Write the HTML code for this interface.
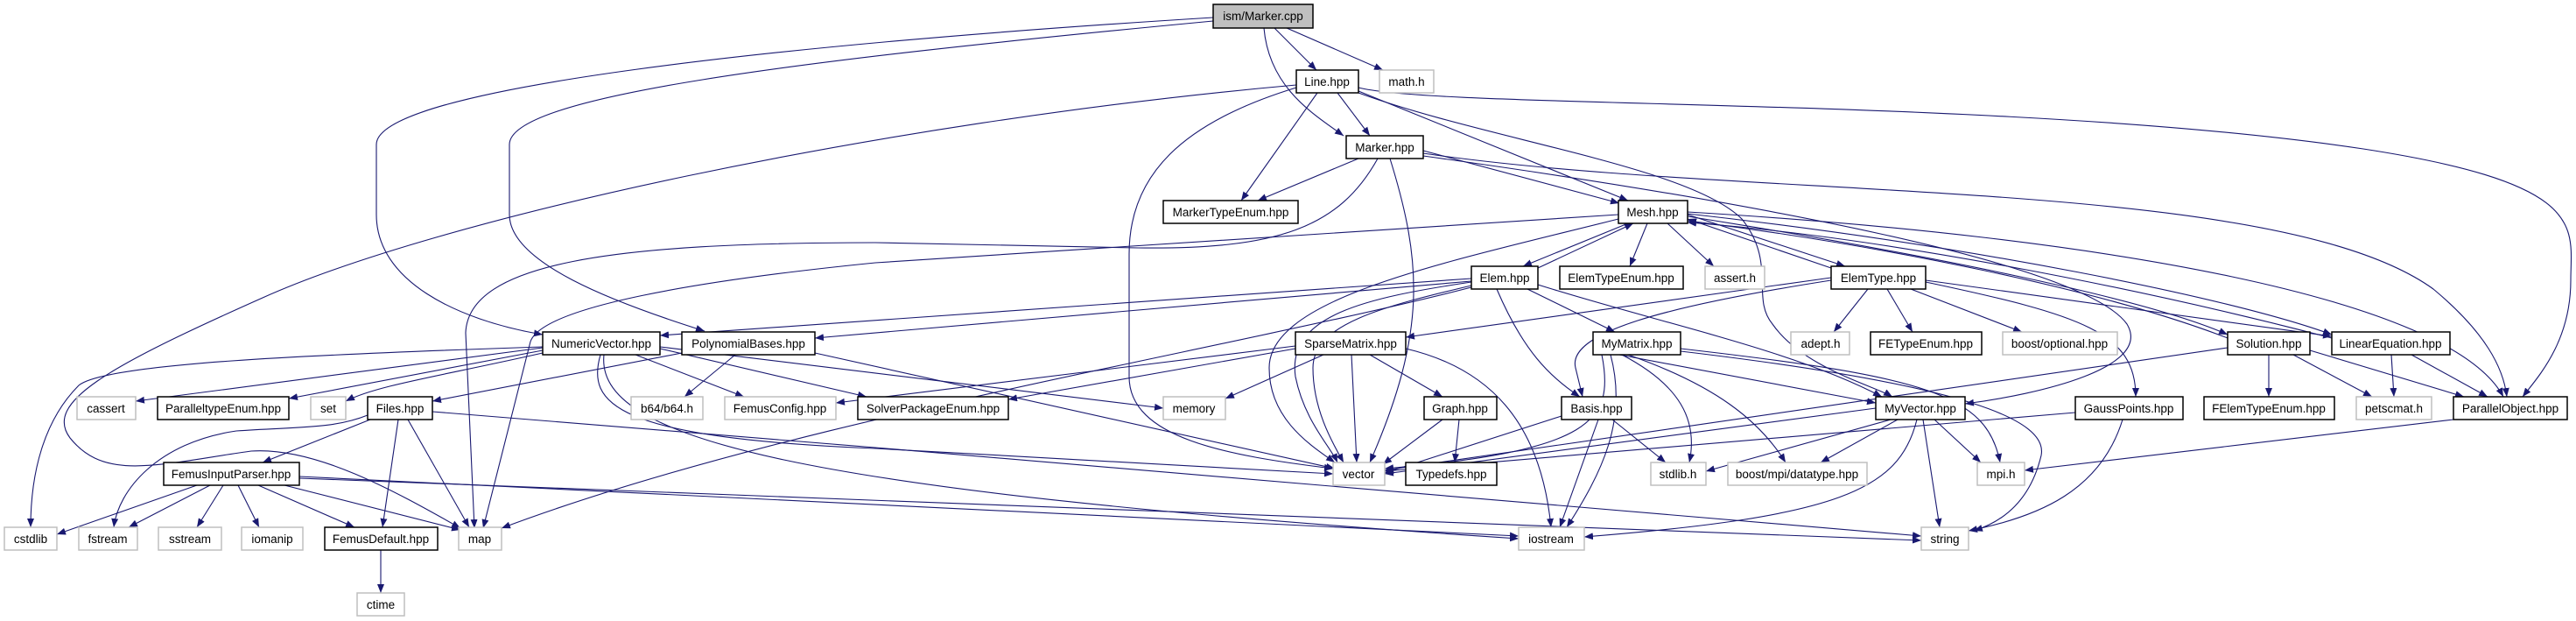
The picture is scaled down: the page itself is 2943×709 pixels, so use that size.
<!DOCTYPE html>
<html><head><meta charset="utf-8"><style>
html,body{margin:0;padding:0;background:#fff;}
svg{display:block;}
text{font-family:"Liberation Sans",sans-serif;font-size:13.5px;fill:#000;}
.e{fill:none;stroke:#191970;stroke-width:1.1;marker-end:url(#a);}
.p{fill:#fff;stroke:#000;stroke-width:1.5;}
.g{fill:#fff;stroke:#bfbfbf;stroke-width:1.5;}
</style></head><body>
<svg width="2943" height="709" viewBox="0 0 2943 709" xmlns="http://www.w3.org/2000/svg">
<defs><marker id="a" markerWidth="10" markerHeight="8" refX="10" refY="4" orient="auto" markerUnits="userSpaceOnUse"><path d="M0,0 L10,4 L0,8z" fill="#191970"/></marker></defs>
<g>
<path class="e" d="M1456,32 L1504,80"/>
<path class="e" d="M1470,32 L1580,80"/>
<path class="e" d="M1444,32 C1450,100 1500,130 1535,155"/>
<path class="e" d="M1386,20 C900,50 430,100 430,165 L430,245 C430,320 520,365 620,382"/>
<path class="e" d="M1386,24 C900,70 582,110 582,165 L582,245 C582,300 700,345 805,378"/>
<path class="e" d="M1505,106 L1418,229"/>
<path class="e" d="M1528,106 L1565,155"/>
<path class="e" d="M1552,104 L1860,229"/>
<path class="e" d="M1552,100 C1650,125 2300,110 2700,170 C2960,210 2937,260 2937,320 C2937,390 2900,430 2882,453"/>
<path class="e" d="M1552,106 C1700,160 1930,190 1990,250 C2030,300 2000,340 2025,370 C2060,420 2140,440 2162,453"/>
<path class="e" d="M1481,100 C1350,140 1290,200 1290,290 L1290,430 C1290,500 1400,520 1523,535"/>
<path class="e" d="M1481,97 C1000,140 500,250 300,340 C120,420 50,460 80,500 C120,550 180,530 287,515 C360,510 450,560 526,603"/>
<path class="e" d="M1552,181 L1437,229"/>
<path class="e" d="M1626,172 L1850,232"/>
<path class="e" d="M1588,181 C1625,300 1630,380 1565,528"/>
<path class="e" d="M1574,181 C1530,260 1460,285 1300,283 L1000,277 C700,277 535,300 532,380 L542,603"/>
<path class="e" d="M1626,175 C2000,230 2600,200 2780,330 C2840,380 2860,420 2864,453"/>
<path class="e" d="M1626,178 C2000,230 2380,300 2430,370 C2460,420 2330,450 2245,461"/>
<path class="e" d="M1860,255 L1740,304"/>
<path class="e" d="M1757,306 L1866,255"/>
<path class="e" d="M1882,255 L1862,304"/>
<path class="e" d="M1905,255 L1958,304"/>
<path class="e" d="M1928,245 L2108,304"/>
<path class="e" d="M2092,306 L1928,250"/>
<path class="e" d="M1928,247 C2200,290 2450,340 2545,382"/>
<path class="e" d="M2545,386 C2400,330 2150,280 1928,252"/>
<path class="e" d="M1928,244 C2250,280 2550,340 2664,382"/>
<path class="e" d="M2664,386 C2450,330 2150,270 1928,254"/>
<path class="e" d="M1928,242 C2400,270 2800,340 2860,453"/>
<path class="e" d="M1849,245 L1000,300 C800,320 620,350 606,390 L552,603"/>
<path class="e" d="M1849,250 C1650,300 1450,340 1450,420 C1450,480 1500,510 1525,528"/>
<path class="e" d="M1681,318 L754,383"/>
<path class="e" d="M1681,321 L931,386"/>
<path class="e" d="M1681,322 C1560,340 1470,360 1480,430 C1490,480 1520,510 1528,528"/>
<path class="e" d="M1681,326 C1580,350 1500,370 1500,420 C1500,470 1525,510 1535,528"/>
<path class="e" d="M1681,328 C1400,400 900,480 573,603"/>
<path class="e" d="M1710,330 C1740,400 1770,430 1805,453"/>
<path class="e" d="M1745,330 L1845,379"/>
<path class="e" d="M1757,325 C1900,370 2050,400 2150,453"/>
<path class="e" d="M2092,317 L1606,385"/>
<path class="e" d="M2092,320 C1900,350 1790,380 1800,420 L1808,453"/>
<path class="e" d="M2134,330 L2095,379"/>
<path class="e" d="M2156,330 L2185,379"/>
<path class="e" d="M2183,330 L2310,379"/>
<path class="e" d="M2200,322 C2380,360 2440,380 2440,453"/>
<path class="e" d="M2200,320 L2664,384"/>
<path class="e" d="M620,396 C350,405 120,415 90,440 C50,480 35,540 35,602"/>
<path class="e" d="M620,397 L155,458"/>
<path class="e" d="M620,400 L330,455"/>
<path class="e" d="M620,403 C500,430 430,440 395,458"/>
<path class="e" d="M726,405 L850,453"/>
<path class="e" d="M754,398 L990,453"/>
<path class="e" d="M754,396 L1329,466"/>
<path class="e" d="M686,405 C670,460 700,500 1000,512 L1523,541"/>
<path class="e" d="M690,405 C680,500 900,560 1735,615"/>
<path class="e" d="M779,403 L494,458"/>
<path class="e" d="M840,405 L782,453"/>
<path class="e" d="M931,403 L1525,535"/>
<path class="e" d="M420,474 C380,490 340,487 270,492 C180,505 135,560 130,602"/>
<path class="e" d="M423,479 L300,528"/>
<path class="e" d="M455,479 L437,602"/>
<path class="e" d="M466,479 L536,602"/>
<path class="e" d="M494,470 L1000,511 L2195,612"/>
<path class="e" d="M225,554 L65,610"/>
<path class="e" d="M240,554 L147,602"/>
<path class="e" d="M255,554 L225,602"/>
<path class="e" d="M272,554 L296,602"/>
<path class="e" d="M295,554 L405,602"/>
<path class="e" d="M325,554 L526,605"/>
<path class="e" d="M342,544 L1735,612"/>
<path class="e" d="M342,546 L2195,617"/>
<path class="e" d="M435,628 L435,677"/>
<path class="e" d="M1480,395 L955,460"/>
<path class="e" d="M1480,398 L1152,456"/>
<path class="e" d="M1512,405 L1400,455"/>
<path class="e" d="M1544,405 L1550,528"/>
<path class="e" d="M1565,405 L1648,453"/>
<path class="e" d="M1606,398 C1700,420 1760,480 1772,602"/>
<path class="e" d="M1648,479 L1580,530"/>
<path class="e" d="M1667,479 L1662,528"/>
<path class="e" d="M1830,405 C1845,480 1820,515 1582,535"/>
<path class="e" d="M1840,405 C1860,480 1830,540 1790,602"/>
<path class="e" d="M1850,405 L2143,460"/>
<path class="e" d="M1853,405 C1920,440 1940,480 1930,528"/>
<path class="e" d="M1860,405 C1960,440 2010,480 2040,528"/>
<path class="e" d="M1920,398 C2200,430 2270,450 2285,528"/>
<path class="e" d="M1920,401 C2250,440 2340,480 2332,520 C2320,570 2290,595 2255,606"/>
<path class="e" d="M1784,475 L1582,540"/>
<path class="e" d="M1826,479 L1782,602"/>
<path class="e" d="M1842,479 L1903,528"/>
<path class="e" d="M2143,466 L1582,541"/>
<path class="e" d="M2160,479 L1949,538"/>
<path class="e" d="M2168,479 L2080,528"/>
<path class="e" d="M2210,479 L2263,528"/>
<path class="e" d="M2197,479 L2216,602"/>
<path class="e" d="M2190,479 C2170,560 2100,590 1810,613"/>
<path class="e" d="M2545,397 L1582,537"/>
<path class="e" d="M2592,405 L2592,453"/>
<path class="e" d="M2620,405 L2710,453"/>
<path class="e" d="M2639,400 L2815,453"/>
<path class="e" d="M2732,405 L2735,453"/>
<path class="e" d="M2755,405 L2842,453"/>
<path class="e" d="M2371,471 L1582,538"/>
<path class="e" d="M2425,479 C2400,560 2330,590 2249,606"/>
<path class="e" d="M2803,479 L2313,537"/>
</g>
<g>
<rect x="1386" y="5" width="114" height="27" fill="#bfbfbf" stroke="#000" stroke-width="1.5"/><text x="1443" y="23" text-anchor="middle">ism/Marker.cpp</text>
<rect class="p" x="1481" y="80" width="71" height="26"/><text x="1516" y="98" text-anchor="middle">Line.hpp</text>
<rect class="g" x="1576" y="80" width="62" height="26"/><text x="1607" y="98" text-anchor="middle">math.h</text>
<rect class="p" x="1538" y="155" width="88" height="26"/><text x="1582" y="173" text-anchor="middle">Marker.hpp</text>
<rect class="p" x="1329" y="229" width="154" height="26"/><text x="1406" y="247" text-anchor="middle">MarkerTypeEnum.hpp</text>
<rect class="p" x="1849" y="229" width="79" height="26"/><text x="1888" y="247" text-anchor="middle">Mesh.hpp</text>
<rect class="p" x="1681" y="304" width="76" height="26"/><text x="1719" y="322" text-anchor="middle">Elem.hpp</text>
<rect class="p" x="1782" y="304" width="141" height="26"/><text x="1852" y="322" text-anchor="middle">ElemTypeEnum.hpp</text>
<rect class="g" x="1948" y="304" width="68" height="26"/><text x="1982" y="322" text-anchor="middle">assert.h</text>
<rect class="p" x="2092" y="304" width="108" height="26"/><text x="2146" y="322" text-anchor="middle">ElemType.hpp</text>
<rect class="p" x="620" y="379" width="134" height="26"/><text x="687" y="397" text-anchor="middle">NumericVector.hpp</text>
<rect class="p" x="779" y="379" width="152" height="26"/><text x="855" y="397" text-anchor="middle">PolynomialBases.hpp</text>
<rect class="p" x="1480" y="379" width="126" height="26"/><text x="1543" y="397" text-anchor="middle">SparseMatrix.hpp</text>
<rect class="p" x="1820" y="379" width="100" height="26"/><text x="1870" y="397" text-anchor="middle">MyMatrix.hpp</text>
<rect class="g" x="2046" y="379" width="67" height="26"/><text x="2080" y="397" text-anchor="middle">adept.h</text>
<rect class="p" x="2137" y="379" width="127" height="26"/><text x="2200" y="397" text-anchor="middle">FETypeEnum.hpp</text>
<rect class="g" x="2288" y="379" width="131" height="26"/><text x="2353" y="397" text-anchor="middle">boost/optional.hpp</text>
<rect class="p" x="2545" y="379" width="94" height="26"/><text x="2592" y="397" text-anchor="middle">Solution.hpp</text>
<rect class="p" x="2664" y="379" width="135" height="26"/><text x="2731" y="397" text-anchor="middle">LinearEquation.hpp</text>
<rect class="g" x="88" y="453" width="67" height="26"/><text x="121" y="471" text-anchor="middle">cassert</text>
<rect class="p" x="180" y="453" width="150" height="26"/><text x="255" y="471" text-anchor="middle">ParalleltypeEnum.hpp</text>
<rect class="g" x="355" y="453" width="40" height="26"/><text x="375" y="471" text-anchor="middle">set</text>
<rect class="p" x="420" y="453" width="74" height="26"/><text x="457" y="471" text-anchor="middle">Files.hpp</text>
<rect class="g" x="721" y="453" width="82" height="26"/><text x="762" y="471" text-anchor="middle">b64/b64.h</text>
<rect class="g" x="828" y="453" width="127" height="26"/><text x="891" y="471" text-anchor="middle">FemusConfig.hpp</text>
<rect class="p" x="980" y="453" width="172" height="26"/><text x="1066" y="471" text-anchor="middle">SolverPackageEnum.hpp</text>
<rect class="g" x="1329" y="453" width="71" height="26"/><text x="1364" y="471" text-anchor="middle">memory</text>
<rect class="p" x="1627" y="453" width="83" height="26"/><text x="1668" y="471" text-anchor="middle">Graph.hpp</text>
<rect class="p" x="1784" y="453" width="80" height="26"/><text x="1824" y="471" text-anchor="middle">Basis.hpp</text>
<rect class="p" x="2143" y="453" width="102" height="26"/><text x="2194" y="471" text-anchor="middle">MyVector.hpp</text>
<rect class="p" x="2371" y="453" width="123" height="26"/><text x="2432" y="471" text-anchor="middle">GaussPoints.hpp</text>
<rect class="p" x="2518" y="453" width="149" height="26"/><text x="2592" y="471" text-anchor="middle">FElemTypeEnum.hpp</text>
<rect class="g" x="2692" y="453" width="86" height="26"/><text x="2735" y="471" text-anchor="middle">petscmat.h</text>
<rect class="p" x="2803" y="453" width="130" height="26"/><text x="2868" y="471" text-anchor="middle">ParallelObject.hpp</text>
<rect class="p" x="187" y="528" width="155" height="26"/><text x="264" y="546" text-anchor="middle">FemusInputParser.hpp</text>
<rect class="g" x="1523" y="528" width="59" height="26"/><text x="1552" y="546" text-anchor="middle">vector</text>
<rect class="p" x="1606" y="528" width="104" height="26"/><text x="1658" y="546" text-anchor="middle">Typedefs.hpp</text>
<rect class="g" x="1886" y="528" width="63" height="26"/><text x="1917" y="546" text-anchor="middle">stdlib.h</text>
<rect class="g" x="1974" y="528" width="159" height="26"/><text x="2053" y="546" text-anchor="middle">boost/mpi/datatype.hpp</text>
<rect class="g" x="2259" y="528" width="54" height="26"/><text x="2286" y="546" text-anchor="middle">mpi.h</text>
<rect class="g" x="5" y="602" width="60" height="26"/><text x="35" y="620" text-anchor="middle">cstdlib</text>
<rect class="g" x="90" y="602" width="67" height="26"/><text x="123" y="620" text-anchor="middle">fstream</text>
<rect class="g" x="181" y="602" width="72" height="26"/><text x="217" y="620" text-anchor="middle">sstream</text>
<rect class="g" x="276" y="602" width="70" height="26"/><text x="311" y="620" text-anchor="middle">iomanip</text>
<rect class="p" x="371" y="602" width="129" height="26"/><text x="435" y="620" text-anchor="middle">FemusDefault.hpp</text>
<rect class="g" x="524" y="602" width="49" height="26"/><text x="548" y="620" text-anchor="middle">map</text>
<rect class="g" x="1735" y="602" width="75" height="26"/><text x="1772" y="620" text-anchor="middle">iostream</text>
<rect class="g" x="2195" y="602" width="54" height="26"/><text x="2222" y="620" text-anchor="middle">string</text>
<rect class="g" x="408" y="677" width="54" height="26"/><text x="435" y="695" text-anchor="middle">ctime</text>
</g>
</svg>
</body></html>
